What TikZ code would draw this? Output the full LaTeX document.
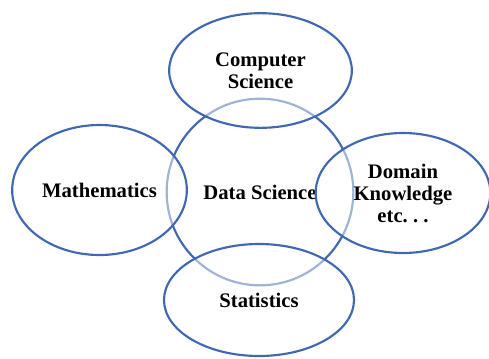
\documentclass[tikz,border=0pt]{standalone}
\usepackage{fontspec}
\setmainfont{Liberation Serif}
\usepackage{xcolor}
\usepackage{tikz}
\usetikzlibrary{shapes.geometric}

\definecolor{ringblue}{RGB}{64,104,178}

\begin{document}
\begin{tikzpicture}[x=0.75pt, y=-0.75pt,
    ring/.style={draw=ringblue, line width=1.6pt, inner sep=0pt,
      font=\fontsize{15.5}{16.5}\selectfont\bfseries, align=center},
    field/.style={ring, ellipse, fill=white, fill opacity=0.5, text opacity=1}]
      \useasboundingbox (0,0) rectangle (489,358);

      \node [ring, circle, minimum size=140pt] (ds) at (260,192) {Data Science};

      \node [field, minimum width=137pt, minimum height=86pt] (cs) at (260.5,70.5) {Computer\\Science};
      \node [field, minimum width=131pt, minimum height=97.5pt] (math) at (99.5,190) {Mathematics};
      \node [field, minimum width=131pt, minimum height=90pt] (dk) at (403,193) {Domain\\Knowledge\\etc.~.~.};
      \node [field, minimum width=142.5pt, minimum height=84pt] (stat) at (259,300) {Statistics};
    \end{tikzpicture}
\end{document}
